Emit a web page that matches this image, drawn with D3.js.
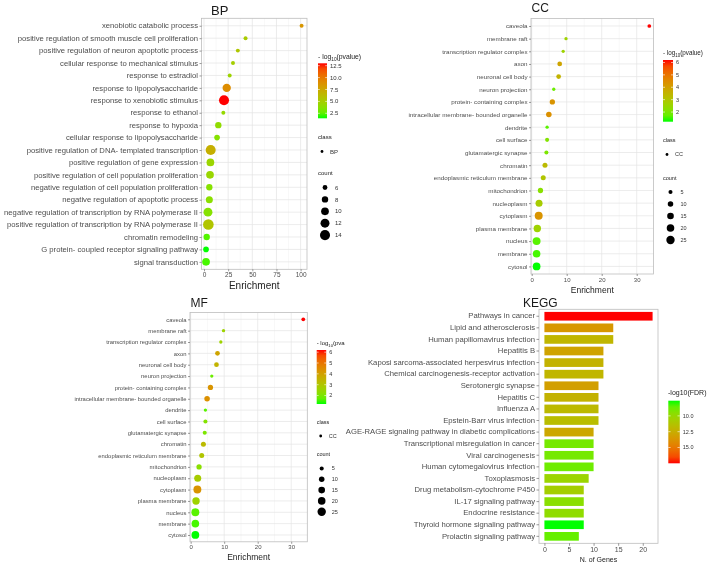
<!DOCTYPE html>
<html>
<head>
<meta charset="utf-8">
<script src="https://cdn.jsdelivr.net/npm/d3@7"></script>
<style>
body { margin: 0; background: #fff; }
svg { will-change: transform; }
text { font-family: "Liberation Sans", Arial, sans-serif; }
</style>
</head>
<body>
<script>
// ---- GO BP ----
const bpTerms = ["xenobiotic catabolic process", "positive regulation of smooth muscle cell proliferation",
  "positive regulation of neuron apoptotic process", "cellular response to mechanical stimulus",
  "response to estradiol", "response to lipopolysaccharide", "response to xenobiotic stimulus",
  "response to ethanol", "response to hypoxia", "cellular response to lipopolysaccharide",
  "positive regulation of DNA- templated transcription", "positive regulation of gene expression",
  "positive regulation of cell population proliferation", "negative regulation of cell population proliferation",
  "negative regulation of apoptotic process", "negative regulation of transcription by RNA polymerase II",
  "positive regulation of transcription by RNA polymerase II", "chromatin remodeling",
  "G protein- coupled receptor signaling pathway", "signal transduction"];
const bpEnrichment = [101, 43, 35, 30, 26.6, 23.5, 20.7, 20, 14.8, 13.5, 6.9, 6.6, 6.2, 5.5, 5.5, 4.1, 4.5, 2.8, 2.1, 2.1];
const bpCount = [5, 5, 5, 5, 5, 11, 14, 5, 8, 7, 14, 10, 10, 8, 9, 12, 15, 8, 7, 10];
const bpLogP = [8.5, 5.2, 5.5, 5.0, 4.6, 9.0, 13.0, 4.2, 4.0, 3.6, 7.0, 4.5, 4.4, 3.6, 3.8, 3.6, 5.6, 2.2, 1.45, 2.0];

// ---- GO CC (the MF panel of the figure repeats this data) ----
const ccTerms = ["caveola", "membrane raft", "transcription regulator complex", "axon", "neuronal cell body",
  "neuron projection", "protein- containing complex", "intracellular membrane- bounded organelle", "dendrite",
  "cell surface", "glutamatergic synapse", "chromatin", "endoplasmic reticulum membrane", "mitochondrion",
  "nucleoplasm", "cytoplasm", "plasma membrane", "nucleus", "membrane", "cytosol"];
const ccEnrichment = [33.6, 9.8, 9.0, 8.0, 7.7, 6.3, 5.9, 4.9, 4.4, 4.4, 4.2, 3.8, 3.3, 2.5, 2.1, 2.0, 1.6, 1.4, 1.4, 1.4];
const ccCount = [4, 3, 3, 7, 7, 3, 9, 10, 3, 5, 5, 8, 8, 9, 17, 22, 19, 22, 20, 21];
const ccLogP = [6.2, 2.6, 2.6, 3.9, 3.5, 1.8, 4.3, 4.4, 1.6, 2.1, 2.0, 3.3, 3.0, 2.2, 2.8, 4.3, 2.6, 1.6, 1.45, 1.22];

// ---- KEGG ----
const keggTerms = ["Pathways in cancer", "Lipid and atherosclerosis", "Human papillomavirus infection", "Hepatitis B",
  "Kaposi sarcoma-associated herpesvirus infection", "Chemical carcinogenesis-receptor activation",
  "Serotonergic synapse", "Hepatitis C", "Influenza A", "Epstein-Barr virus infection",
  "AGE-RAGE signaling pathway in diabetic complications", "Transcriptional misregulation in cancer",
  "Viral carcinogenesis", "Human cytomegalovirus infection", "Toxoplasmosis", "Drug metabolism-cytochrome P450",
  "IL-17 signaling pathway", "Endocrine resistance", "Thyroid hormone signaling pathway", "Prolactin signaling pathway"];
const keggGenes = [22, 14, 14, 12, 12, 12, 11, 11, 11, 11, 10, 10, 10, 10, 9, 8, 8, 8, 8, 7];
const keggLogFDR = [17.5, 13.6, 12.0, 13.0, 12.2, 12.0, 13.2, 12.2, 11.8, 11.6, 12.8, 9.0, 9.0, 8.8, 10.2, 10.6, 9.6, 9.8, 7.6, 8.6];

const svg = d3.select("body").append("svg").attr("width", 709).attr("height", 565);
const defs = svg.append("defs");
const green2red = d3.interpolateLab("#00ff00", "#ff0000");

// sx: horizontal stretch of the tick labels (the figure panels are squeezed unevenly)
function styleAxis(ax, fs, sx, off) {
  ax.select(".domain").remove();
  ax.selectAll(".tick line").attr("stroke", "#555").attr("stroke-width", 0.6);
  const t = ax.selectAll(".tick text").attr("fill", "#4d4d4d").style("font-size", fs + "px");
  if (sx) t.attr("x", -off / sx).attr("transform", `scale(${sx},1)`);
}

function logTitle(g, x, y, fs, tail) {
  const t = g.append("text").attr("x", x).attr("y", y).attr("fill", "#222").style("font-size", fs + "px");
  t.append("tspan").text("- log");
  t.append("tspan").attr("dy", fs * 0.3).style("font-size", (fs * 0.7) + "px").text("10");
  t.append("tspan").attr("dy", -fs * 0.3).text(tail);
}

function colorBar(g, o) {
  const id = "grad" + o.id;
  const grad = defs.append("linearGradient").attr("id", id)
    .attr("x1", 0).attr("x2", 0).attr("y1", o.reverse ? 0 : 1).attr("y2", o.reverse ? 1 : 0);
  d3.range(0, 1.0001, 0.1).forEach(t => grad.append("stop").attr("offset", t).attr("stop-color", green2red(t)));
  const s = d3.scaleLinear().domain(o.extent).range(o.reverse ? [o.top, o.bottom] : [o.bottom, o.top]);
  g.append("rect").attr("x", o.x).attr("y", o.top).attr("width", o.w).attr("height", o.bottom - o.top)
    .attr("fill", `url(#${id})`);
  o.ticks.forEach(v => {
    [[o.x, o.x + o.w / 5], [o.x + o.w * 4 / 5, o.x + o.w]].forEach(([a, b]) =>
      g.append("line").attr("x1", a).attr("x2", b).attr("y1", s(v)).attr("y2", s(v))
        .attr("stroke", "#fff").attr("stroke-width", 0.6));
    g.append("text").attr("x", o.x + o.w + 3).attr("y", s(v)).attr("dy", "0.35em")
      .attr("fill", "#333").style("font-size", o.fs + "px").text(o.fmt(v));
  });
}

function dotPanel(o) {
  const g = svg.append("g");
  const x = d3.scaleLinear().domain(o.xDomain).range([o.left, o.right]);
  const y = d3.scalePoint().domain(o.terms).range([o.top, o.bottom]).padding(0.6);
  const r = d3.scaleSqrt().domain(o.rDomain).range(o.rRange);
  const color = d3.scaleSequential(green2red).domain(d3.extent(o.logp));

  g.append("rect").attr("x", o.left).attr("y", o.top).attr("width", o.right - o.left)
    .attr("height", o.bottom - o.top).attr("fill", "#fff");
  o.minor.forEach(v => g.append("line").attr("x1", x(v)).attr("x2", x(v)).attr("y1", o.top).attr("y2", o.bottom)
    .attr("stroke", "#f1f1f1").attr("stroke-width", 0.5));
  o.xTicks.forEach(v => g.append("line").attr("x1", x(v)).attr("x2", x(v)).attr("y1", o.top).attr("y2", o.bottom)
    .attr("stroke", "#e4e4e4").attr("stroke-width", 0.7));
  o.terms.forEach(t => g.append("line").attr("x1", o.left).attr("x2", o.right).attr("y1", y(t)).attr("y2", y(t))
    .attr("stroke", "#e4e4e4").attr("stroke-width", 0.7));

  g.selectAll("circle.pt").data(o.terms).enter().append("circle").attr("class", "pt")
    .attr("cx", (d, i) => x(o.x[i])).attr("cy", d => y(d))
    .attr("r", (d, i) => r(o.count[i])).attr("fill", (d, i) => color(o.logp[i]));

  g.append("rect").attr("x", o.left).attr("y", o.top).attr("width", o.right - o.left)
    .attr("height", o.bottom - o.top).attr("fill", "none").attr("stroke", "#bdbdbd").attr("stroke-width", 0.8);

  g.append("g").attr("transform", `translate(0,${o.bottom})`)
    .call(d3.axisBottom(x).tickValues(o.xTicks).tickSize(2).tickPadding(o.xPad))
    .call(ax => styleAxis(ax, o.xFs));
  g.append("g").attr("transform", `translate(${o.left},0)`)
    .call(d3.axisLeft(y).tickSize(2).tickPadding(1.5))
    .call(ax => styleAxis(ax, o.yFs, o.ySx, 3.5));

  g.append("text").attr("x", (o.left + o.right) / 2).attr("y", o.axisTitleY).attr("text-anchor", "middle")
    .attr("fill", "#222").style("font-size", o.axisTitleFs + "px").text("Enrichment");
  g.append("text").attr("x", o.titleX).attr("y", o.titleY).attr("fill", "#1a1a1a")
    .style("font-size", o.titleFs + "px").text(o.title);

  // legends
  const L = o.legend;
  logTitle(g, L.x, L.titleY, L.titleFs, L.titleTail);
  colorBar(g, { id: o.title, x: L.x, top: L.barTop, bottom: L.barBottom, w: L.barW,
    extent: d3.extent(o.logp), ticks: L.colorTicks, fmt: L.fmt, fs: L.fs });
  g.append("text").attr("x", L.x).attr("y", L.classY).attr("fill", "#222").style("font-size", L.fs + "px").text("class");
  g.append("circle").attr("cx", L.x + 4).attr("cy", L.classY + 12.5).attr("r", 1.4).attr("fill", "#000");
  g.append("text").attr("x", L.x + 12).attr("y", L.classY + 12.5).attr("dy", "0.35em").attr("fill", "#333")
    .style("font-size", L.fs + "px").text(L.classLabel);
  g.append("text").attr("x", L.x).attr("y", L.countY).attr("fill", "#222").style("font-size", L.fs + "px").text("count");
  L.sizes.forEach((v, i) => {
    const cy = L.countY + 12.5 + i * L.sizeStep;
    g.append("circle").attr("cx", L.x + L.circleDx).attr("cy", cy).attr("r", r(v)).attr("fill", "#000");
    g.append("text").attr("x", L.x + L.circleDx + 10).attr("y", cy).attr("dy", "0.35em").attr("fill", "#333")
      .style("font-size", L.fs + "px").text(v);
  });
}

dotPanel({
  title: "BP", titleX: 211, titleY: 15, titleFs: 13,
  terms: bpTerms, x: bpEnrichment, count: bpCount, logp: bpLogP,
  left: 201.5, right: 307, top: 18.3, bottom: 269.3, xDomain: [-2.6, 106.6],
  xTicks: [0, 25, 50, 75, 100], minor: [12.5, 37.5, 62.5, 87.5], xPad: 1.5,
  xFs: 6.5, yFs: 7, ySx: 1.1, axisTitleY: 289, axisTitleFs: 10,
  rDomain: [4, 15], rRange: [1.5, 5.3],
  legend: { x: 318, titleY: 59, titleTail: "(pvalue)", titleFs: 6.8, fs: 6, barTop: 63.3, barBottom: 118.3, barW: 9,
    colorTicks: [2.5, 5, 7.5, 10, 12.5], fmt: d3.format(".1f"), classY: 139, classLabel: "BP",
    countY: 175, sizes: [6, 8, 10, 12, 14], sizeStep: 11.9, circleDx: 7 }
});

dotPanel({
  title: "CC", titleX: 531.5, titleY: 12, titleFs: 12,
  terms: ccTerms, x: ccEnrichment, count: ccCount, logp: ccLogP,
  left: 531, right: 653.5, top: 18.4, bottom: 274, xDomain: [-0.2, 34.8],
  xTicks: [0, 10, 20, 30], minor: [5, 15, 25], xPad: 1.7,
  xFs: 6, yFs: 5.8, ySx: 1.08, axisTitleY: 293, axisTitleFs: 8.5,
  rDomain: [2, 25], rRange: [1.4, 4.2],
  legend: { x: 663, titleY: 55, titleTail: "(pvalue)", titleFs: 6.3, fs: 5.5, barTop: 60, barBottom: 121.7, barW: 10,
    colorTicks: [2, 3, 4, 5, 6], fmt: d3.format("d"), classY: 142, classLabel: "CC",
    countY: 179.5, sizes: [5, 10, 15, 20, 25], sizeStep: 12, circleDx: 7.5 }
});

dotPanel({
  title: "MF", titleX: 190.5, titleY: 307, titleFs: 12,
  terms: ccTerms, x: ccEnrichment, count: ccCount, logp: ccLogP,
  left: 190, right: 307.3, top: 312.5, bottom: 541.8, xDomain: [-0.2, 34.8],
  xTicks: [0, 10, 20, 30], minor: [5, 15, 25], xPad: 0.6,
  xFs: 6, yFs: 5.5, ySx: 1.07, axisTitleY: 559.5, axisTitleFs: 8.5,
  rDomain: [2, 25], rRange: [1.4, 4.2],
  legend: { x: 316.7, titleY: 345, titleTail: "(pva", titleFs: 6, fs: 5.5, barTop: 350, barBottom: 404, barW: 9.5,
    colorTicks: [2, 3, 4, 5, 6], fmt: d3.format("d"), classY: 423.5, classLabel: "CC",
    countY: 456, sizes: [5, 10, 15, 20, 25], sizeStep: 10.8, circleDx: 5 }
});

// ---- KEGG bar chart ----
(function () {
  const g = svg.append("g");
  const left = 539, right = 658, top = 309.3, bottom = 543.3;
  const x = d3.scaleLinear().domain([-1.1, 23.1]).range([left, right]);
  const y = d3.scaleBand().domain(keggTerms).range([top, bottom]).paddingInner(0.25).paddingOuter(0.225);
  const color = d3.scaleSequential(green2red).domain(d3.extent(keggLogFDR));

  g.append("rect").attr("x", left).attr("y", top).attr("width", right - left).attr("height", bottom - top)
    .attr("fill", "#fff");
  g.selectAll("rect.bar").data(keggTerms).enter().append("rect").attr("class", "bar")
    .attr("x", x(0)).attr("y", d => y(d)).attr("height", y.bandwidth())
    .attr("width", (d, i) => x(keggGenes[i]) - x(0))
    .attr("fill", (d, i) => color(keggLogFDR[i]));
  g.append("rect").attr("x", left).attr("y", top).attr("width", right - left).attr("height", bottom - top)
    .attr("fill", "none").attr("stroke", "#bdbdbd").attr("stroke-width", 0.8);

  g.append("g").attr("transform", `translate(0,${bottom})`)
    .call(d3.axisBottom(x).tickValues([0, 5, 10, 15, 20]).tickSize(2.5).tickPadding(1.2))
    .call(ax => styleAxis(ax, 7));
  g.append("g").attr("transform", `translate(${left},0)`)
    .call(d3.axisLeft(y).tickSize(2.5).tickPadding(1.5))
    .call(ax => styleAxis(ax, 7, 1.1, 4));

  g.append("text").attr("x", (left + right) / 2).attr("y", 562).attr("text-anchor", "middle")
    .attr("fill", "#222").style("font-size", "7px").text("N. of Genes");
  g.append("text").attr("x", 523).attr("y", 307).attr("fill", "#1a1a1a").style("font-size", "12px").text("KEGG");

  g.append("text").attr("x", 668).attr("y", 395).attr("fill", "#222").style("font-size", "7px").text("-log10(FDR)");
  colorBar(g, { id: "KEGG", x: 668.3, top: 400.7, bottom: 463.3, w: 11.5, extent: d3.extent(keggLogFDR),
    ticks: [10, 12.5, 15], fmt: d3.format(".1f"), fs: 5.5, reverse: true });
})();
</script>
</body>
</html>
